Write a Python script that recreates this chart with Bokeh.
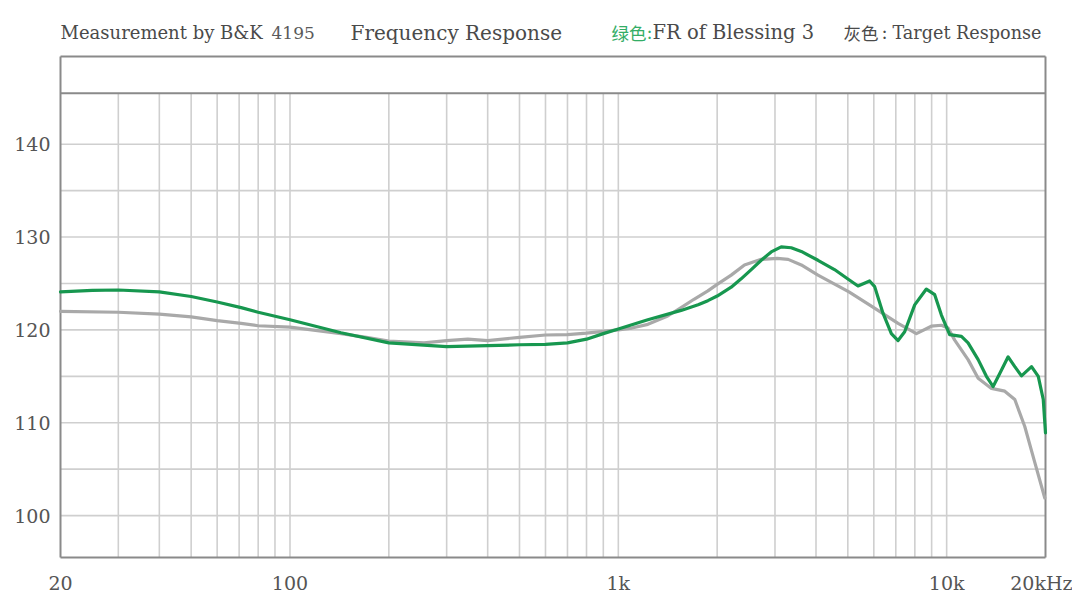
from bokeh.plotting import figure
from bokeh.models import FixedTicker, Label, Range1d
from bokeh.embed import file_html
from bokeh.resources import INLINE

# ---------------- data ----------------
green_freq = [20, 25, 30, 40, 50, 60, 71, 80, 100, 143, 200, 300, 400, 500, 600, 700, 800, 900,
              1000, 1230, 1553, 1750, 1874, 2000, 2207, 2366, 2540, 2724, 2922, 3134, 3362, 3608,
              4056, 4553, 5040, 5370, 5826, 6036, 6398, 6785, 7112, 7450, 7992, 8672, 9196,
              9638, 10212, 11092, 11620, 12472, 13214, 13852, 14512, 15390, 16126, 16900,
              18134, 19012, 19688, 20000]
green_db = [124.1, 124.25, 124.3, 124.1, 123.6, 123.0, 122.4, 121.9, 121.1, 119.7, 118.6, 118.2,
            118.3, 118.4, 118.45, 118.6, 119.0, 119.6, 120.1, 121.1, 122.1, 122.7, 123.15, 123.65,
            124.6, 125.5, 126.5, 127.5, 128.4, 128.95, 128.85, 128.45, 127.5, 126.5, 125.4, 124.73,
            125.27, 124.66, 121.8, 119.6, 118.85, 119.8, 122.7, 124.4, 123.8, 121.6, 119.5,
            119.3, 118.6, 116.8, 115.0, 113.9, 115.3, 117.1, 116.05, 115.05, 116.05, 115.0,
            112.5, 108.9]

gray_freq = [20, 30, 40, 50, 60, 71, 80, 100, 143, 171, 200, 256, 300, 348, 400, 500, 600, 700,
             800, 1000, 1100, 1230, 1414, 1553, 1700, 1874, 2000, 2207, 2422, 2724, 3048, 3290,
             3608, 4056, 5040, 6063, 7112, 8087, 8980, 9638, 10100, 10580, 11620, 12472, 13690,
             15030, 16126, 17294, 18560, 19900]
gray_db = [122.0, 121.9, 121.7, 121.4, 121.0, 120.7, 120.45, 120.3, 119.6, 119.2, 118.8, 118.6,
           118.85, 119.0, 118.85, 119.2, 119.45, 119.5, 119.65, 120.0, 120.2, 120.6, 121.5, 122.4,
           123.3, 124.2, 124.9, 125.9, 127.0, 127.6, 127.7, 127.6, 127.0, 125.9, 124.1, 122.3,
           120.7, 119.6, 120.4, 120.5, 120.2, 118.9, 116.8, 114.8, 113.7, 113.4, 112.5, 109.6,
           105.7, 101.9]

x_ticks = [20, 100, 1000, 10000, 20000]
x_tick_labels = ["20", "100", "1k", "10k", "20kHz"]
y_ticks = [100, 110, 120, 130, 140]
grid_db = [100, 105, 110, 115, 120, 125, 130, 135, 140]
grid_freq = [30, 40, 50, 60, 70, 80, 90, 100,
             200, 300, 400, 500, 600, 700, 800, 900, 1000,
             2000, 3000, 4000, 5000, 6000, 7000, 8000, 9000, 10000]

# chart box (data units): bottom axis, header divider, top of box
Y_BOT, Y_BAND, Y_TOP = 95.48, 145.48, 149.46
F_LO, F_HI = 20, 20000

# visible frame is a bit larger than the drawn box, so the box lines are not clipped
PAD = 10 ** (2 / 328)
X_START, X_END = F_LO / PAD, F_HI * PAD
Y_START, Y_END = 95.27, 154.62

p = figure(width=1072, height=596, x_axis_type="log",
           x_range=Range1d(X_START, X_END), y_range=Range1d(Y_START, Y_END),
           output_backend="svg", toolbar_location=None,
           min_border_left=58, min_border_right=25, min_border_top=8, min_border_bottom=36)
p.background_fill_color = "white"
p.border_fill_color = "white"
p.outline_line_color = None
p.xgrid.grid_line_color = None
p.ygrid.grid_line_color = None

GRID_C = "#cfcfcf"
BOX_C = "#8a8a8a"
p.segment(x0=grid_freq, y0=[Y_BOT] * len(grid_freq), x1=grid_freq, y1=[Y_BAND] * len(grid_freq),
          line_color=GRID_C, line_width=1.6)
p.segment(x0=[F_LO] * len(grid_db), y0=grid_db, x1=[F_HI] * len(grid_db), y1=grid_db,
          line_color=GRID_C, line_width=1.6)
# box and header divider
p.segment(x0=[F_LO, F_LO, F_LO, F_HI, F_LO], y0=[Y_BOT, Y_BAND, Y_TOP, Y_BOT, Y_BOT],
          x1=[F_HI, F_HI, F_HI, F_HI, F_LO], y1=[Y_BOT, Y_BAND, Y_TOP, Y_TOP, Y_TOP],
          line_color=BOX_C, line_width=2)

p.line(gray_freq, gray_db, line_color="#a9a9a9", line_width=3.2, line_join="round", line_cap="round")
p.line(green_freq, green_db, line_color="#17974f", line_width=3.2, line_join="round", line_cap="round")

# axes
for ax in (p.xaxis[0], p.yaxis[0]):
    ax.axis_line_color = None
    ax.major_tick_line_color = None
    ax.minor_tick_line_color = None
    ax.major_tick_out = 0
    ax.major_tick_in = 0
    ax.minor_tick_out = 0
    ax.major_label_text_font = "DejaVu Serif"
    ax.major_label_text_font_size = "19px"
    ax.major_label_text_color = "#555555"
p.xaxis.ticker = FixedTicker(ticks=x_ticks, minor_ticks=[])
p.xaxis.major_label_overrides = {t: l for t, l in zip(x_ticks, x_tick_labels)}
p.xaxis.major_label_standoff = 12
p.yaxis.ticker = FixedTicker(ticks=y_ticks, minor_ticks=[])
p.yaxis.major_label_standoff = 8

# header texts (screen units relative to the frame, y up)
FRAME_LEFT = 58
BASE_Y = 527
TXT = "#4a4a4a"
GREEN_TXT = "#33ad66"

def hdr(x_page, text, color, size, font="DejaVu Serif"):
    p.add_layout(Label(x=x_page - FRAME_LEFT, y=BASE_Y, x_units="screen", y_units="screen",
                       text=text, text_font=font, text_font_size=size,
                       text_color=color, text_baseline="alphabetic", text_align="left"))

hdr(60, "Measurement by B&K", TXT, "18px")
hdr(271, "4195", "#5a5a5a", "17px")
hdr(350, "Frequency Response", TXT, "20px")
hdr(611, "绿色", GREEN_TXT, "17.5px", "Noto Sans CJK SC")
hdr(646, ":", GREEN_TXT, "18px")
hdr(652, "FR of Blessing 3", TXT, "19.5px")
hdr(843, "灰色", TXT, "17.5px", "Noto Sans CJK SC")
hdr(881, ":", TXT, "18px")
hdr(892, "Target Response", TXT, "17.6px")

open("out.html", "w").write(file_html(p, INLINE))
